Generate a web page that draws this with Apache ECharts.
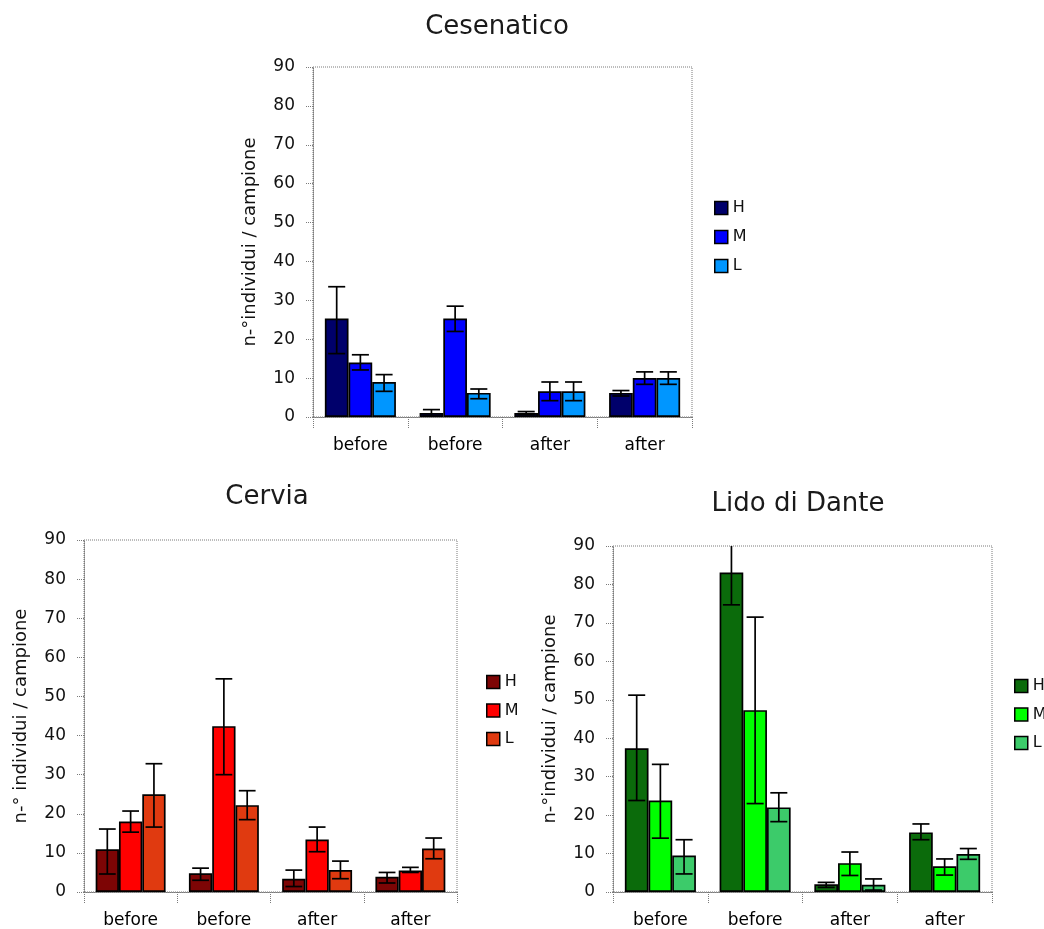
<!DOCTYPE html>
<html>
<head>
<meta charset="utf-8">
<title>Cesenatico / Cervia / Lido di Dante</title>
<script src="https://cdn.jsdelivr.net/npm/echarts@6/dist/echarts.min.js"></script>
<style>
  html, body { margin: 0; padding: 0; background: #fff; }
</style>
</head>
<body>
<div id="main" style="width:1044px;height:929px;"></div>
<script type="text/javascript">
// categories and levels
var categories = ['before', 'before', 'after', 'after'];
var levels = ['H', 'M', 'L'];
var yTicks = [0, 10, 20, 30, 40, 50, 60, 70, 80, 90];

// Cesenatico: means, lower / upper error ends
var cesH = [25.3, 1.0, 1.0, 6.2];
var cesM = [14.0, 25.3, 6.6, 10.0];
var cesL = [9.0, 6.2, 6.6, 10.0];
var cesHlo = [16.3, 0.2, 0.6, 5.4], cesHhi = [33.5, 1.9, 1.4, 6.8];
var cesMlo = [12.1, 22.0, 4.2, 8.4], cesMhi = [16.0, 28.5, 9.0, 11.6];
var cesLlo = [6.6, 4.7, 4.2, 8.4], cesLhi = [10.9, 7.2, 9.0, 11.6];

// Cervia
var cerH = [10.9, 4.8, 3.4, 3.9];
var cerM = [18.0, 42.4, 13.4, 5.5];
var cerL = [25.0, 22.2, 5.6, 11.1];
var cerHlo = [4.6, 3.0, 1.4, 2.3], cerHhi = [16.1, 6.1, 5.6, 5.0];
var cerMlo = [15.3, 30.0, 10.3, 5.0], cerMhi = [20.7, 54.5, 16.6, 6.3];
var cerLlo = [16.6, 18.5, 3.4, 8.5], cerLhi = [32.8, 25.9, 7.9, 13.8];

// Lido di Dante
var lidH = [37.4, 83.1, 2.0, 15.5];
var lidM = [23.8, 47.3, 7.5, 6.7];
var lidL = [9.5, 22.0, 1.9, 9.9];
var lidHlo = [23.8, 74.7, 1.2, 13.6], lidHhi = [51.2, 91.5, 2.5, 17.7];
var lidMlo = [14.0, 23.0, 4.3, 4.4], lidMhi = [33.2, 71.5, 10.4, 8.6];
var lidLlo = [4.7, 18.3, 0.5, 8.5], lidLhi = [13.6, 25.8, 3.4, 11.3];

var charts = [
  { title: 'Cesenatico', yName: 'n-\u00b0individui / campione',
    grid: { left: 313, top: 67, width: 379, height: 350 },
    titlePos: [497, 14], legendPos: [714, 200], legendGap: 13,
    colors: ['#00006b', '#0000ff', '#0096ff'],
    vals: [cesH, cesM, cesL], lo: [cesHlo, cesMlo, cesLlo], hi: [cesHhi, cesMhi, cesLhi] },
  { title: 'Cervia', yName: 'n-\u00b0 individui / campione',
    grid: { left: 84, top: 540, width: 373, height: 353 },
    titlePos: [267, 484], legendPos: [486, 674], legendGap: 12.5,
    colors: ['#7d0505', '#ff0000', '#e03a10'],
    vals: [cerH, cerM, cerL], lo: [cerHlo, cerMlo, cerLlo], hi: [cerHhi, cerMhi, cerLhi] },
  { title: 'Lido di Dante', yName: 'n-\u00b0individui / campione',
    grid: { left: 613, top: 546, width: 379, height: 348 },
    titlePos: [798, 491], legendPos: [1014, 678], legendGap: 12.5,
    colors: ['#0b6b0b', '#00ff00', '#3ccb6a'],
    vals: [lidH, lidM, lidL], lo: [lidHlo, lidMlo, lidLlo], hi: [lidHhi, lidMhi, lidLhi] }
];

var FONT = 'DejaVu Sans';
var GAP = 0.25;
var dotted = { color: '#7a7a7a', width: 1, type: 'dotted' };

function renderErr(params, api) {
  var cat = api.value(0), lo = api.value(1), hi = api.value(2), k = api.value(3);
  var band = api.size([1, 0])[0];
  var bw = band * (1 - GAP) / 3;
  var cx = api.coord([cat, 0])[0] + (k - 1) * bw;
  var yLo = api.coord([cat, lo])[1];
  var yHi = api.coord([cat, hi])[1];
  var c = bw * 0.36;
  var st = { stroke: '#000', lineWidth: 1.7 };
  return {
    type: 'group',
    children: [
      { type: 'line', shape: { x1: cx, y1: yLo, x2: cx, y2: yHi }, style: st },
      { type: 'line', shape: { x1: cx - c, y1: yLo, x2: cx + c, y2: yLo }, style: st },
      { type: 'line', shape: { x1: cx - c, y1: yHi, x2: cx + c, y2: yHi }, style: st }
    ]
  };
}

var option = {
  animation: false,
  backgroundColor: '#fff',
  title: [], legend: [], grid: [], xAxis: [], yAxis: [], series: []
};

charts.forEach(function (ch, gi) {
  option.title.push({
    text: ch.title, left: ch.titlePos[0], top: ch.titlePos[1], textAlign: 'center', padding: 0,
    textStyle: { fontFamily: FONT, fontSize: 26, fontWeight: 'normal', color: '#1a1a1a' }
  });
  option.grid.push({
    left: ch.grid.left, top: ch.grid.top, width: ch.grid.width, height: ch.grid.height,
    show: true, backgroundColor: 'transparent', borderColor: '#7a7a7a', borderWidth: 1, borderType: 'dotted'
  });
  option.xAxis.push({
    type: 'category', gridIndex: gi, data: categories,
    axisLine: { lineStyle: dotted },
    axisTick: { show: true, length: 11, lineStyle: dotted },
    axisLabel: { margin: 20, fontFamily: FONT, fontSize: 17, color: '#000', interval: 0 }
  });
  option.yAxis.push({
    type: 'value', gridIndex: gi, min: 0, max: 90, interval: 10,
    name: ch.yName, nameLocation: 'middle', nameGap: 54,
    nameTextStyle: { fontFamily: FONT, fontSize: 18, color: '#111' },
    axisLine: { show: true, lineStyle: dotted },
    axisTick: { show: true, length: 7, lineStyle: dotted },
    splitLine: { show: false },
    axisLabel: { margin: 18, fontFamily: FONT, fontSize: 17, color: '#111',
      formatter: function (v) { return yTicks.indexOf(v) >= 0 ? String(v) : ''; } }
  });
  var names = [];
  levels.forEach(function (lv, k) {
    var nm = ch.title + ' ' + lv;
    names.push(nm);
    option.series.push({
      name: nm, type: 'bar', xAxisIndex: gi, yAxisIndex: gi,
      data: ch.vals[k], barGap: '0%', barCategoryGap: (GAP * 100) + '%',
      itemStyle: { color: ch.colors[k], borderColor: '#000', borderWidth: 1.7 }
    });
  });
  option.legend.push({
    data: names, orient: 'vertical', left: ch.legendPos[0], top: ch.legendPos[1],
    itemWidth: 13, itemHeight: 13, itemGap: ch.legendGap, padding: 0, selectedMode: false,
    icon: 'rect',
    itemStyle: { borderColor: '#000', borderWidth: 1.5 },
    formatter: function (n) { return n.split(' ').pop(); },
    textStyle: { fontFamily: FONT, fontSize: 16, lineHeight: 16, color: '#111' }
  });
  var errData = [];
  levels.forEach(function (lv, k) {
    for (var i = 0; i < categories.length; i++) {
      errData.push([i, ch.lo[k][i], ch.hi[k][i], k]);
    }
  });
  option.series.push({
    type: 'custom', xAxisIndex: gi, yAxisIndex: gi, clip: true, z: 5,
    renderItem: renderErr, encode: { x: 0, y: [1, 2] }, data: errData, silent: true
  });
});

var myChart = echarts.init(document.getElementById('main'), null, { renderer: 'canvas' });
myChart.setOption(option);
</script>
</body>
</html>
